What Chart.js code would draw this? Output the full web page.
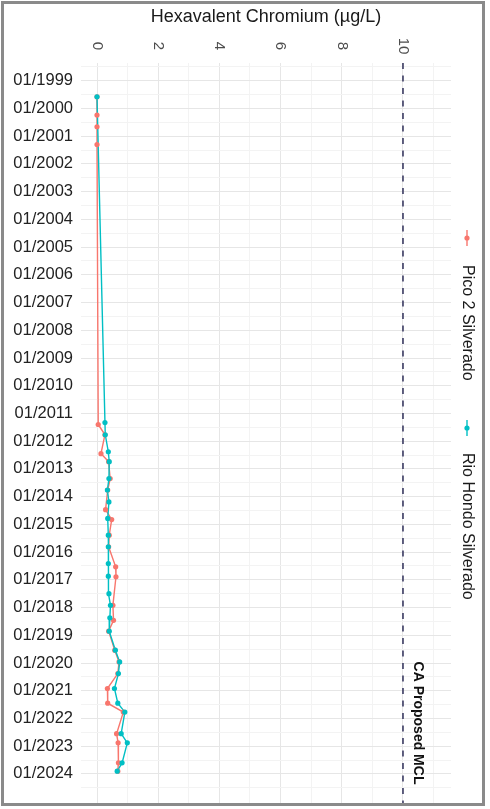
<!DOCTYPE html>
<html>
<head>
<meta charset="utf-8">
<script src="https://cdn.jsdelivr.net/npm/chart.js@4"></script>
<style>
  html, body { margin: 0; padding: 0; background: #ffffff; }
  #wrap { position: relative; width: 490px; height: 809px; }
  #chart { position: absolute; left: 0; top: 0; }
  #frame {
    position: absolute; left: 1px; top: 1px; width: 484px; height: 805px;
    border: 3px solid #8a8a8a; box-sizing: border-box; pointer-events: none;
  }
</style>
</head>
<body>
<div id="wrap">
  <canvas id="chart" width="490" height="809"></canvas>
  <div id="frame"></div>
</div>
<script>
// Hexavalent chromium sampling results for two wells (µg/L)
const axisTitle = 'Hexavalent Chromium (µg/L)';
const mclLabel = 'CA Proposed MCL';
const mclValue = 10;

const seriesNames = ['Pico 2 Silverado', 'Rio Hondo Silverado'];
const seriesColors = ['#F8766D', '#00BFC4'];

const picoDates = [
  '1999-07-31', '2000-03-28', '2000-08-29', '2001-04-20',
  '2011-05-26', '2011-10-08', '2012-06-13', '2012-09-27',
  '2013-05-08', '2013-10-05', '2014-06-21', '2014-10-30',
  '2015-05-23', '2015-10-23', '2016-07-13', '2016-11-21',
  '2017-12-02', '2018-06-18', '2018-11-07', '2019-07-16',
  '2019-12-17', '2020-05-19', '2020-12-02', '2021-06-14',
  '2021-10-09', '2022-07-20', '2022-11-18', '2023-08-08',
  '2023-11-25'
];
const picoValues = [
  0.00, 0.00, 0.00, 0.00,
  0.04, 0.26, 0.13, 0.38,
  0.43, 0.35, 0.28, 0.48,
  0.40, 0.38, 0.61, 0.62,
  0.52, 0.54, 0.38, 0.58,
  0.72, 0.68, 0.34, 0.35,
  0.86, 0.64, 0.69, 0.70,
  0.68
];

const rioDates = [
  '1999-07-31',
  '2011-05-01', '2011-10-08', '2012-05-19', '2012-09-27',
  '2013-05-08', '2013-10-05', '2014-03-11', '2014-10-15',
  '2015-05-23', '2015-10-23', '2016-05-31', '2016-11-14',
  '2017-07-02', '2017-12-02', '2018-05-16', '2018-11-07',
  '2019-07-16', '2019-12-17', '2020-05-19', '2020-12-02',
  '2021-06-14', '2021-10-09', '2022-07-20', '2022-11-18',
  '2023-08-08', '2023-11-25'
];
const rioValues = [
  0.00,
  0.26, 0.27, 0.37, 0.40,
  0.39, 0.34, 0.39, 0.35,
  0.37, 0.37, 0.37, 0.37,
  0.39, 0.44, 0.42, 0.40,
  0.60, 0.74, 0.70, 0.57,
  0.68, 0.91, 0.79, 0.99,
  0.82, 0.66
];

const yearTicks = [1999, 2000, 2001, 2002, 2003, 2004, 2005, 2006, 2007, 2008,
  2009, 2010, 2011, 2012, 2013, 2014, 2015, 2016, 2017, 2018, 2019, 2020,
  2021, 2022, 2023, 2024];
const valueTicks = [0, 2, 4, 6, 8, 10];

// decimal year from an ISO date
function toYear(s) {
  const d = new Date(s + 'T00:00:00Z');
  const y = d.getUTCFullYear();
  const start = Date.UTC(y, 0, 1), end = Date.UTC(y + 1, 0, 1);
  return y + (d.getTime() - start) / (end - start);
}
function points(dates, values) {
  return dates.map((d, i) => ({ x: values[i], y: toYear(d) }));
}

const picoPts = points(picoDates, picoValues);
const rioPts = points(rioDates, rioValues);

const Y_MIN = 1998.36, Y_MAX = 2025.12;
const X_MIN = -0.523, X_MAX = 11.57;

// minor grid between major breaks
const yGrid = [];
for (let i = 0; i < yearTicks.length; i++) {
  yGrid.push({ value: yearTicks[i] - 0.5 });
  yGrid.push({ value: yearTicks[i] });
}
yGrid.push({ value: yearTicks[yearTicks.length - 1] + 0.5 });
const xGrid = [];
for (let v = 0; v <= 11; v++) xGrid.push({ value: v });

const FONT = '"Liberation Sans", Arial, Helvetica, sans-serif';

const lineDs = (label, pts, color, order) => ({
  label, data: pts, showLine: true, borderColor: color, borderWidth: 1.4,
  pointRadius: 0, fill: false, order
});
const pointDs = (label, pts, color, order) => ({
  label, data: pts, showLine: false, pointRadius: 2.6, pointBorderWidth: 0,
  pointBackgroundColor: color, backgroundColor: color, order
});

const overlay = {
  id: 'overlay',
  afterDraw(chart) {
    const { ctx, chartArea: a, scales: { x } } = chart;
    ctx.save();
    ctx.textBaseline = 'middle';

    // axis title
    ctx.fillStyle = '#1a1a1a';
    ctx.font = '18px ' + FONT;
    ctx.textAlign = 'center';
    ctx.fillText(axisTitle, (a.left + a.right) / 2, 17);

    // value tick labels, turned a quarter clockwise
    ctx.fillStyle = '#4d4d4d';
    ctx.font = '15px ' + FONT;
    valueTicks.forEach(v => {
      ctx.save();
      ctx.translate(x.getPixelForValue(v), 46);
      ctx.rotate(Math.PI / 2);
      ctx.textAlign = 'center';
      ctx.fillText(String(v), 0, 0);
      ctx.restore();
    });

    // MCL annotation
    ctx.save();
    ctx.fillStyle = '#111111';
    ctx.font = 'bold 14px ' + FONT;
    ctx.translate(x.getPixelForValue(mclValue) + 15, 723);
    ctx.rotate(Math.PI / 2);
    ctx.textAlign = 'center';
    ctx.fillText(mclLabel, 0, 0);
    ctx.restore();

    // legend
    const keyX = 467;
    const keyY = [238, 428];
    const textY = [265, 453];
    seriesNames.forEach((name, i) => {
      ctx.strokeStyle = seriesColors[i];
      ctx.lineWidth = 1.4;
      ctx.beginPath();
      ctx.moveTo(keyX, keyY[i] - 8);
      ctx.lineTo(keyX, keyY[i] + 8);
      ctx.stroke();
      ctx.fillStyle = seriesColors[i];
      ctx.beginPath();
      ctx.arc(keyX, keyY[i], 2.6, 0, Math.PI * 2);
      ctx.fill();

      ctx.save();
      ctx.fillStyle = '#1a1a1a';
      ctx.font = '16px ' + FONT;
      ctx.translate(keyX, textY[i]);
      ctx.rotate(Math.PI / 2);
      ctx.textAlign = 'left';
      ctx.fillText(name, 0, 0);
      ctx.restore();
    });
    ctx.restore();
  }
};

new Chart(document.getElementById('chart'), {
  type: 'scatter',
  data: {
    datasets: [
      pointDs(seriesNames[1], rioPts, seriesColors[1], 0),
      pointDs(seriesNames[0], picoPts, seriesColors[0], 1),
      lineDs(seriesNames[1], rioPts, seriesColors[1], 2),
      lineDs(seriesNames[0], picoPts, seriesColors[0], 3),
      {
        label: mclLabel,
        data: [{ x: mclValue, y: Y_MIN }, { x: mclValue, y: Y_MAX }],
        showLine: true, borderColor: '#4f4f72', borderWidth: 1.8,
        borderDash: [6, 6.5], pointRadius: 0, order: 4
      }
    ]
  },
  options: {
    responsive: false,
    animation: false,
    devicePixelRatio: 1,
    layout: { padding: { left: 0, top: 63, right: 39, bottom: 4 } },
    plugins: { legend: { display: false }, tooltip: { enabled: false }, title: { display: false } },
    scales: {
      x: {
        type: 'linear', position: 'top', min: X_MIN, max: X_MAX,
        afterBuildTicks: s => { s.ticks = xGrid.map(t => ({ value: t.value })); },
        afterFit: s => { s.height = 0; s.paddingLeft = 0; s.paddingRight = 0; },
        ticks: { display: false },
        border: { display: false },
        grid: {
          drawTicks: false,
          lineWidth: 1,
          color: c => (c.tick && c.tick.value % 2 === 0) ? '#e6e6e6' : '#f3f3f3'
        }
      },
      y: {
        type: 'linear', reverse: true, min: Y_MIN, max: Y_MAX,
        afterBuildTicks: s => { s.ticks = yGrid.map(t => ({ value: t.value })); },
        afterFit: s => { s.width = 81; s.paddingTop = 0; s.paddingBottom = 0; },
        border: { display: false },
        ticks: {
          autoSkip: false,
          padding: 8,
          color: '#222222',
          font: { family: FONT, size: 16.5 },
          callback: v => Number.isInteger(v) ? '01/' + v : ''
        },
        grid: {
          drawTicks: false,
          lineWidth: 1,
          color: c => (c.tick && Number.isInteger(c.tick.value)) ? '#e6e6e6' : '#f3f3f3'
        }
      }
    }
  },
  plugins: [overlay]
});
</script>
</body>
</html>
